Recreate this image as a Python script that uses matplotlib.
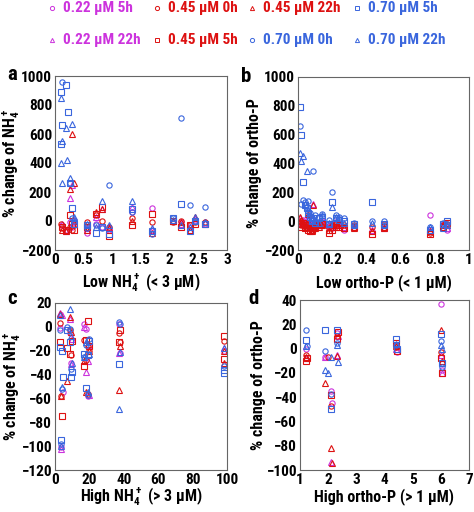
import numpy as np
import matplotlib
matplotlib.use("Agg")
import matplotlib.pyplot as plt
from matplotlib.lines import Line2D

FONT = 'Roboto Condensed'
plt.rcParams['font.family'] = [FONT, 'DejaVu Sans']
plt.rcParams['font.weight'] = 'bold'
plt.rcParams['mathtext.fontset'] = 'custom'
plt.rcParams['mathtext.rm'] = FONT + ':bold'
plt.rcParams['mathtext.bf'] = FONT + ':bold'
plt.rcParams['mathtext.default'] = 'bf'

nan = np.nan
series_labels = ["0.22 µM 5h", "0.22 µM 22h", "0.45 µM 0h", "0.45 µM 5h",
                 "0.45 µM 22h", "0.70 µM 0h", "0.70 µM 5h", "0.70 µM 22h"]
series_colors = ["#CC33DD", "#CC33DD", "#DD1111", "#DD1111",
                 "#DD1111", "#3A66DD", "#3A66DD", "#3A66DD"]
series_markers = ["o", "^", "o", "s", "^", "o", "s", "^"]

# Panel a: Low NH4+
a_x = [0.10, 0.11, 0.12, 0.13, 0.20, 0.21, 0.22, 0.27, 0.30, 0.33, 0.55, 0.72, 0.82, 0.95, 1.35, 1.70, 2.05, 2.20, 2.35, 2.45, 2.62]
a_m5 = [nan, nan, -30, nan, -60, nan, nan, -10, -40, 10, -80, -20, -40, -60, 60, 90, nan, -10, -40, 10, -20]
a_m22 = [nan, nan, -20, nan, -70, nan, nan, 160, 250, 0, -50, 30, 80, -40, 100, -60, 0, -20, -60, 20, -10]
a_r0 = [-20, nan, -50, nan, -70, nan, nan, -40, -60, -30, -10, 40, 0, -40, 20, -10, -10, 0, -30, -10, -10]
a_r5 = [nan, nan, -40, nan, -60, nan, nan, 40, -20, -60, -40, 50, 100, -100, -30, 50, 0, -40, -30, -20, -20]
a_r22 = [nan, nan, -60, nan, -70, nan, nan, 220, 600, 260, -60, 60, 80, -50, 0, -80, 0, -10, -60, 30, -10]
a_b0 = [nan, nan, nan, 960, nan, nan, nan, 260, 20, 0, -50, -30, -50, 250, 60, -90, 20, 710, 110, 0, 95]
a_b5 = [890, 530, nan, 660, 935, nan, 750, 260, 90, -20, -30, -80, -40, -90, 80, -70, 20, 120, -70, 0, -20]
a_b22 = [850, 400, 260, 550, 640, 420, nan, 300, 670, 30, -20, -40, 140, -30, 140, -50, 10, -30, -40, 30, -10]

# Panel b: Low ortho-P
b_x = [0.01, 0.02, 0.03, 0.04, 0.05, 0.06, 0.07, 0.08, 0.09, 0.10, 0.12, 0.14, 0.18, 0.20, 0.22, 0.24, 0.27, 0.33, 0.43, 0.50, 0.77, 0.85, 0.87]
b_m5 = [-10, 0, -20, -30, 20, -10, -40, -30, 10, -20, -30, 0, -40, -50, -10, -20, -60, -50, -70, -50, 40, -30, -60]
b_m22 = [20, -10, 10, -30, 0, 30, -20, -50, 120, 0, -20, -10, -30, -40, 0, -30, -40, -40, -60, -50, -60, -20, -50]
b_r0 = [0, -30, -20, -10, -40, -30, -50, -60, -40, -30, -20, -10, -50, -30, -20, -10, -30, -30, -40, -20, -80, -30, -20]
b_r5 = [-20, -40, -10, -50, -30, -60, -70, -60, -50, -40, -30, -20, -80, -60, -40, -30, -50, -40, -90, -40, -90, -40, -10]
b_r22 = [30, 10, -20, -40, -10, 50, -30, -70, 110, -50, -40, -30, -60, -20, -30, -40, -50, -50, -70, -50, -70, -30, -30]
b_b0 = [660, 120, 150, 130, 100, 140, 60, 20, 350, 40, 30, 50, 10, 200, 40, 30, 20, -10, 0, 0, -40, -10, -20]
b_b5 = [790, 600, 270, 110, 90, 60, 30, 0, 20, -10, 20, 30, -20, 130, 20, 10, 0, -20, 130, -20, -60, -20, 0]
b_b22 = [470, 420, 450, 120, 350, 80, 40, 10, 30, 0, -10, 40, -10, 100, 30, 20, -10, -30, -10, -30, -40, -50, -30]

# Panel c: High NH4+
c_x = [3, 3.5, 4, 4.5, 7, 9, 9.5, 10, 17, 18, 19, 20, 37, 37.5, 98, 98.5]
c_m5 = [-1, -101, nan, -55, nan, -5, -30, nan, 2, -2, -58, -16, 2, -22, -20, nan]
c_m22 = [12, -102, 10, nan, nan, 7, -31, -10, 0, -38, -29, -57, -22, nan, -18, nan]
c_r0 = [3, -58, nan, nan, nan, -3, -24, nan, -11, -28, -56, -20, -5, -13, -12, nan]
c_r5 = [-13, nan, -75, nan, -18, -23, nan, -12, -33, -11, 5, -16, -13, -3, -8, -27]
c_r22 = [11, -58, nan, nan, -45, 8, -4, nan, -29, -55, -14, -20, -53, -16, -30, -20]
c_b0 = [-3, -98, -52, nan, 0, -2, -35, nan, -25, -15, -57, -10, 4, 2, -33, nan]
c_b5 = [-17, -95, -20, -42, -3, -13, -42, -38, -23, -51, -24, -12, -31, nan, -36, -39]
c_b22 = [10, -100, -50, nan, nan, 15, -8, -30, -25, -13, -55, -23, -69, -21, -18, nan]

# Panel d: High ortho-P
d_x = [1.2, 1.25, 1.9, 2.0, 2.1, 2.15, 2.3, 2.35, 4.4, 4.45, 6.0, 6.05]
d_m5 = [0, nan, -7, nan, -35, -45, 13, nan, 3, -3, 37, -18]
d_m22 = [-8, nan, -7, nan, -93, nan, -5, 10, 0, nan, -5, -20]
d_r0 = [-5, nan, nan, -7, -47, nan, 10, nan, 1, nan, -3, nan]
d_r5 = [-10, -8, nan, nan, -38, nan, 8, 14, 5, -2, -8, -20]
d_r22 = [-7, nan, -28, nan, -82, -94, -6, nan, 2, nan, 15, -10]
d_b0 = [15, 2, -2, nan, -37, nan, 5, nan, 3, nan, 6, -15]
d_b5 = [7, nan, 15, nan, -50, nan, 15, nan, 8, 0, 12, -12]
d_b22 = [2, nan, -18, -20, -7, nan, 3, -11, 4, nan, 3, 0]

W, H = 474, 512
fig = plt.figure(figsize=(W / 100, H / 100), dpi=100)

def px(l, t, r, b):
    return [l / W, 1 - b / H, (r - l) / W, (b - t) / H]

panels = [
    (px(55, 76, 227, 250), a_x, [a_m5, a_m22, a_r0, a_r5, a_r22, a_b0, a_b5, a_b22],
     (0, 3), (-200, 1000), np.arange(0, 3.01, 0.5), np.arange(-200, 1001, 200),
     "Low NH$_4^+$ (< 3 µM)", "% change of NH$_4^+$", "a", ["0", "0.5", "1", "1.5", "2", "2.5", "3"],
     (-0.255, 0.5), (0.5, -0.19)),
    (px(298, 77, 469, 250), b_x, [b_m5, b_m22, b_r0, b_r5, b_r22, b_b0, b_b5, b_b22],
     (0, 1), (-200, 1000), np.arange(0, 1.01, 0.2), np.arange(-200, 1001, 200),
     "Low ortho-P (< 1 µM)", "% change of ortho-P", "b", ["0", "0.2", "0.4", "0.6", "0.8", "1"],
     (-0.257, 0.5), (0.5, -0.19)),
    (px(55, 303, 227, 470), c_x, [c_m5, c_m22, c_r0, c_r5, c_r22, c_b0, c_b5, c_b22],
     (0, 100), (-120, 20), np.arange(0, 101, 20), np.arange(-120, 21, 20),
     "High NH$_4^+$ (> 3 µM)", "% change of NH$_4^+$", "c", None,
     (-0.25, 0.5), (0.5, -0.162)),
    (px(300, 300, 469, 470), d_x, [d_m5, d_m22, d_r0, d_r5, d_r22, d_b0, d_b5, d_b22],
     (1, 7), (-100, 40), np.arange(1, 7.1, 1), np.arange(-100, 41, 20),
     "High ortho-P (> 1 µM)", "% change of ortho-P", "d", None,
     (-0.243, 0.5), (0.5, -0.159)),
]

label_pos = {"a": (7, 74), "b": (241, 76), "c": (7, 298), "d": (248, 299)}

for rect, xs, ys_list, xl, yl, xt, yt, xlab, ylab, letter, xtl, ylc, xlc in panels:
    ax = fig.add_axes(rect)
    for ys, col, mk in zip(ys_list, series_colors, series_markers):
        ax.plot(xs, ys, linestyle="none", marker=mk, markersize=3.8,
                markerfacecolor="none", markeredgecolor=col, markeredgewidth=0.8)
    ax.set_xlim(*xl)
    ax.set_ylim(*yl)
    ax.set_xticks(xt)
    if xtl is not None:
        ax.set_xticklabels(xtl)
    ax.set_yticks(yt)
    ax.tick_params(length=0, labelsize=11, pad=2)
    for lab in ax.get_xticklabels() + ax.get_yticklabels():
        lab.set_fontweight("bold")
    for sp in ax.spines.values():
        sp.set_color("#666666")
        sp.set_linewidth(0.8)
    ax.set_xlabel(xlab, fontsize=11.5, fontweight="bold", va="center")
    ax.set_ylabel(ylab, fontsize=11.5, fontweight="bold", va="center")
    ax.yaxis.set_label_coords(*ylc)
    ax.xaxis.set_label_coords(*xlc)
    lx, ly = label_pos[letter]
    fig.text(lx / W, 1 - ly / H, letter, fontsize=15, fontweight="bold",
             ha="left", va="center")

# legend (manual, two rows)
leg_rows = [
    [(0, 52), (2, 157), (4, 252), (6, 357)],
    [(1, 52), (3, 157), (5, 252), (7, 357)],
]
leg_y = [8, 40]
for row, yy in zip(leg_rows, leg_y):
    for idx, xx in row:
        fy = 1 - yy / H
        fig.add_artist(Line2D([xx / W], [fy], transform=fig.transFigure,
                              marker=series_markers[idx], markersize=3,
                              markerfacecolor="none", markeredgecolor=series_colors[idx],
                              markeredgewidth=0.7, linestyle="none"))
        fig.text((xx + 11) / W, fy, series_labels[idx], color=series_colors[idx],
                 fontsize=11, fontweight="bold", ha="left", va="center")

fig.savefig("out.png", dpi=100)
